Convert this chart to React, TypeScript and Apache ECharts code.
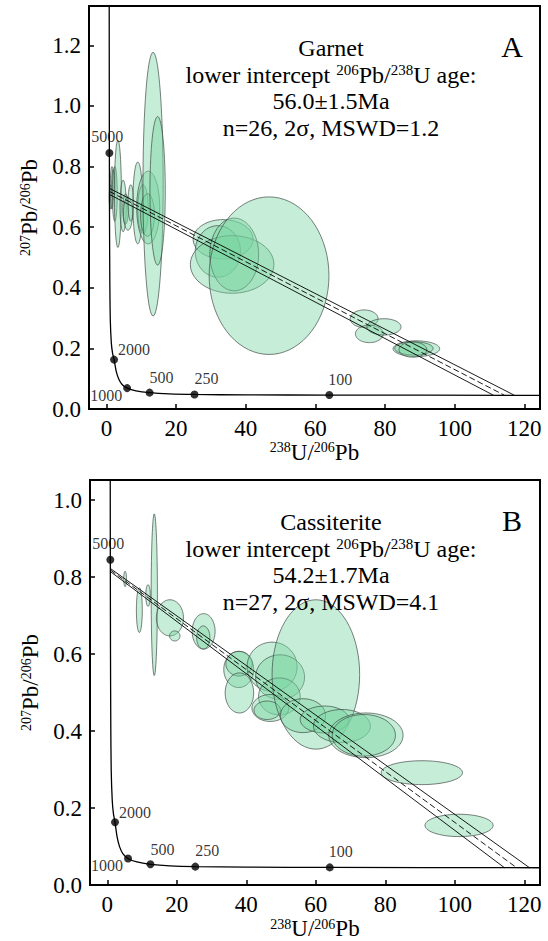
import React, { useEffect, useRef } from "react";
import * as echarts from "echarts";

const FONT = "Liberation Serif";

// Axis ticks
const xTicks = [0, 20, 40, 60, 80, 100, 120];
const yTicksA = [0, 0.2, 0.4, 0.6, 0.8, 1.0, 1.2];
const yTicksB = [0, 0.2, 0.4, 0.6, 0.8, 1.0];

// Concordia curve (Tera-Wasserburg)
const concordiaCurve: number[][] = [
  [0.8, 1.34], [0.83, 1.0], [0.85, 0.845], [0.9, 0.6], [0.98, 0.42], [1.1, 0.3],
  [1.4, 0.22], [1.75, 0.185], [2.2, 0.163], [2.8, 0.125], [3.5, 0.1], [4.5, 0.081],
  [5.95, 0.069], [8.5, 0.06], [12.4, 0.054], [18, 0.05], [25.3, 0.048], [40, 0.0465],
  [64, 0.046], [124.5, 0.045],
];
// Age markers on concordia
const ageLabels = ["5000", "2000", "1000", "500", "250", "100"];
const agePoints: number[][] = [
  [0.85, 0.845], [2.2, 0.163], [5.95, 0.069], [12.4, 0.054], [25.3, 0.048], [64, 0.046],
];

// Discordia (upper envelope, regression, lower envelope): [x0,y0,x1,y1]
const discordiaA = {
  upper: [0.9, 0.728, 117.1, 0.0456],
  mid: [0.9, 0.718, 114.25, 0.0456],
  lower: [0.9, 0.708, 111.1, 0.0456],
};
const discordiaB = {
  upper: [0.9, 0.822, 121.5, 0.045],
  mid: [0.9, 0.818, 117.8, 0.045],
  lower: [0.9, 0.814, 114.3, 0.045],
};

// Error ellipses: [cx, cy, rx, ry]
const ellipsesA: number[][] = [
  [1.2, 0.7, 0.4, 0.04],
  [1.6, 0.73, 0.5, 0.07],
  [2.0, 0.74, 0.5, 0.05],
  [2.4, 0.71, 0.7, 0.09],
  [3.3, 0.71, 1.0, 0.177],
  [4.8, 0.67, 0.9, 0.085],
  [5.5, 0.66, 0.8, 0.05],
  [6.2, 0.645, 1.3, 0.055],
  [7.0, 0.68, 0.8, 0.06],
  [9.0, 0.68, 1.4, 0.135],
  [10.5, 0.66, 1.5, 0.08],
  [12.0, 0.665, 3.3, 0.12],
  [11.8, 0.64, 2.0, 0.07],
  [13.4, 0.742, 2.9, 0.435],
  [14.7, 0.72, 2.2, 0.245],
  [33.5, 0.56, 8.6, 0.065],
  [32.0, 0.52, 6.5, 0.085],
  [36.1, 0.477, 12.0, 0.095],
  [36.7, 0.51, 7.0, 0.12],
  [46.7, 0.44, 17.2, 0.26],
  [74.0, 0.298, 4.0, 0.029],
  [75.5, 0.248, 4.0, 0.029],
  [79.7, 0.271, 4.9, 0.027],
  [89.0, 0.199, 6.7, 0.026],
  [88.3, 0.2, 5.5, 0.022],
  [88.0, 0.196, 4.0, 0.025],
];
const ellipsesB: number[][] = [
  [13.5, 0.754, 0.9, 0.21],
  [5.1, 0.795, 0.4, 0.02],
  [9.2, 0.714, 0.85, 0.058],
  [11.7, 0.752, 0.65, 0.028],
  [18.0, 0.694, 3.9, 0.047],
  [19.4, 0.647, 1.5, 0.013],
  [27.7, 0.659, 3.3, 0.046],
  [27.6, 0.643, 1.9, 0.03],
  [37.8, 0.56, 4.3, 0.047],
  [37.9, 0.575, 3.8, 0.032],
  [38.0, 0.499, 4.1, 0.052],
  [47.4, 0.567, 7.2, 0.064],
  [49.7, 0.54, 7.05, 0.058],
  [49.5, 0.49, 6.0, 0.048],
  [46.9, 0.46, 5.3, 0.035],
  [46.0, 0.454, 3.8, 0.024],
  [60.0, 0.547, 12.6, 0.194],
  [56.3, 0.44, 6.5, 0.044],
  [62.5, 0.43, 7.0, 0.035],
  [67.5, 0.413, 8.2, 0.043],
  [74.4, 0.389, 10.7, 0.058],
  [73.8, 0.389, 9.1, 0.054],
  [90.5, 0.292, 11.7, 0.031],
  [101.2, 0.155, 9.8, 0.029],
];

const textA = ["Garnet", "lower intercept {sup|206}Pb/{sup|238}U age:", "56.0±1.5Ma", "n=26, 2σ, MSWD=1.2"];
const textB = ["Cassiterite", "lower intercept {sup|206}Pb/{sup|238}U age:", "54.2±1.7Ma", "n=27, 2σ, MSWD=4.1"];

const GRIDS = [
  { left: 89, top: 6, width: 451, height: 403, ymax: 1.33, yTicks: yTicksA, ell: ellipsesA, disc: discordiaA, text: textA, letter: "A" },
  { left: 90, top: 480, width: 450, height: 406, ymax: 1.052, yTicks: yTicksB, ell: ellipsesB, disc: discordiaB, text: textB, letter: "B" },
];

const richSup = {
  sup: { fontSize: 14, fontFamily: FONT, color: "#000", verticalAlign: "top" as const },
  b: { fontSize: 23, fontFamily: FONT, color: "#000" },
};

const labelPos: any[] = [
  { position: [-14, -20] },
  { position: [8, -14] },
  { position: [-33, 3] },
  { position: [4, -19] },
  { position: [4, -20] },
  { position: [3, -20] },
];

function buildOption() {
  const grid: any[] = [];
  const xAxis: any[] = [];
  const yAxis: any[] = [];
  const series: any[] = [];
  const graphic: any[] = [];

  GRIDS.forEach((g, i) => {
    grid.push({ left: g.left, top: g.top, width: g.width, height: g.height, show: true, borderColor: "#000", borderWidth: 2, backgroundColor: "transparent" });
    xAxis.push({
      gridIndex: i, type: "value", min: -5, max: 124.5,
      axisLine: { show: true, onZero: false, lineStyle: { color: "#000", width: 2 } },
      axisTick: { show: true, inside: true, length: 5, lineStyle: { color: "#000", width: 1.5 }, customValues: xTicks },
      axisLabel: { customValues: xTicks, fontFamily: FONT, fontSize: 23, color: "#000", margin: 8 },
      splitLine: { show: false },
      name: "{sup|238}{b|U/}{sup|206}{b|Pb}", nameLocation: "middle", nameGap: 30,
      nameTextStyle: { fontFamily: FONT, rich: richSup },
    });
    yAxis.push({
      gridIndex: i, type: "value", min: 0, max: g.ymax,
      axisLine: { show: true, onZero: false, lineStyle: { color: "#000", width: 2 } },
      axisTick: { show: true, inside: true, length: 5, lineStyle: { color: "#000", width: 1.5 }, customValues: g.yTicks },
      axisLabel: { customValues: g.yTicks, fontFamily: FONT, fontSize: 23, color: "#000", margin: 8, formatter: (v: number) => v.toFixed(1) },
      splitLine: { show: false },
      name: "{sup|207}{b|Pb/}{sup|206}{b|Pb}", nameLocation: "middle", nameGap: 46, nameRotate: 90,
      nameTextStyle: { fontFamily: FONT, rich: richSup },
    });

    series.push({
      type: "custom", xAxisIndex: i, yAxisIndex: i, clip: true,
      data: g.ell,
      renderItem: (params: any, api: any) => {
        const c = api.coord([api.value(0), api.value(1)]);
        const s = api.size([api.value(2), api.value(3)]);
        const pts: number[][] = [];
        const N = 72;
        for (let k = 0; k < N; k++) {
          const t = (k / N) * Math.PI * 2;
          pts.push([c[0] + s[0] * Math.cos(t), c[1] + s[1] * Math.sin(t)]);
        }
        return {
          type: "polygon",
          shape: { points: pts },
          style: { fill: "rgba(120, 212, 160, 0.42)", stroke: "rgba(60, 70, 65, 0.85)", lineWidth: 0.8 },
        };
      },
    });

    series.push({
      type: "line", xAxisIndex: i, yAxisIndex: i, data: concordiaCurve, showSymbol: false, smooth: 0.25,
      lineStyle: { color: "#000", width: 1.3 }, z: 5,
    });
    const d = g.disc;
    [
      [d.upper, "solid"], [d.mid, "dashed"], [d.lower, "solid"],
    ].forEach(([arr, type]: any) => {
      series.push({
        type: "line", xAxisIndex: i, yAxisIndex: i,
        data: [[arr[0], arr[1]], [arr[2], arr[3]]], showSymbol: false,
        lineStyle: { color: "#000", width: 0.9, type: type === "dashed" ? [6, 3] : "solid" }, z: 5,
      });
    });
    series.push({
      type: "scatter", xAxisIndex: i, yAxisIndex: i, symbolSize: 8, z: 6,
      itemStyle: { color: "#000" },
      data: agePoints.map((p, k) => ({
        value: p,
        label: { show: true, formatter: ageLabels[k], fontFamily: FONT, fontSize: 16, color: "#000", ...labelPos[k] },
      })),
    });

    const cx = 331;
    const baseY = g.top + 42;
    g.text.forEach((t, k) => {
      graphic.push({
        type: "text", x: cx, y: baseY + k * 26.5, z: 10,
        style: {
          text: t, fill: "#000", fontFamily: FONT, fontSize: 24, align: "center", verticalAlign: "middle",
          rich: {
            sup: { fontSize: 15, fontFamily: FONT, fill: "#000", verticalAlign: "top" },
          },
        },
      });
    });
    graphic.push({
      type: "text", x: 512, y: g.top + 40, z: 10,
      style: { text: g.letter, fill: "#000", fontFamily: FONT, fontSize: 30, align: "center", verticalAlign: "middle" },
    });
  });

  return { animation: false, backgroundColor: "#fff", textStyle: { fontFamily: FONT }, grid, xAxis, yAxis, series, graphic };
}

export default function App() {
  const ref = useRef<HTMLDivElement>(null);
  useEffect(() => {
    if (!ref.current) return;
    const chart = echarts.init(ref.current, undefined, { renderer: "svg" });
    chart.setOption(buildOption() as any);
    return () => chart.dispose();
  }, []);
  return <div ref={ref} style={{ position: "absolute", left: 0, top: 0, width: 548, height: 941 }} />;
}
